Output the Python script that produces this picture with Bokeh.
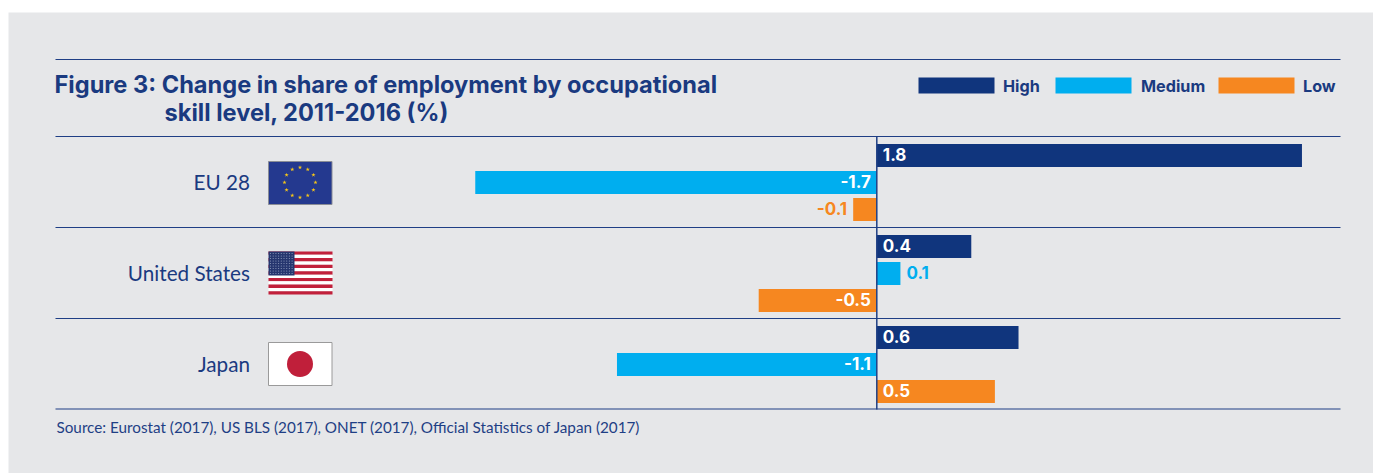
import math
from bokeh.plotting import figure
from bokeh.models import Range1d
from bokeh.embed import file_html
from bokeh.resources import INLINE
from bokeh.core.properties import value

regions = ["EU 28", "United States", "Japan"]
levels = ["High", "Medium", "Low"]
high = [1.8, 0.4, 0.6]
medium = [-1.7, 0.1, -1.1]
low = [-0.1, -0.5, 0.5]
title_lines = ["Figure 3: Change in share of employment by occupational", "skill level, 2011-2016 (%)"]
source = "Source: Eurostat (2017), US BLS (2017), ONET (2017), Official Statistics of Japan (2017)"

NAVY, CYAN, ORANGE = "#10357d", "#00aeef", "#f68720"
INK = "#1a3a80"
BG = "#e6e7e9"
RULE = "#1f3f85"
BOLD = "Inter"
LIGHT = "Lato"
colors = [NAVY, CYAN, ORANGE]
series = [high, medium, low]

W, H = 1373, 473
ZERO, PX_PER_UNIT = 876.3, 236.2
ROW0, ROW_PITCH, BAND = 182.0, 91.0, 27.0
BAR_H = 23.0

def X(px): return (px - ZERO) / PX_PER_UNIT
def Y(px): return (px - ROW0) / ROW_PITCH
def DX(px): return px / PX_PER_UNIT
def DY(px): return px / ROW_PITCH

p = figure(width=W, height=H, output_backend="svg", toolbar_location=None,
           x_range=Range1d(X(0), X(W)), y_range=Range1d(Y(H), Y(0)),
           min_border=0, outline_line_color=None, background_fill_color="white",
           border_fill_color="white")
p.axis.visible = False
p.grid.visible = False

def box(l, r, t, b, c, line=None):
    p.quad(left=[X(l)], right=[X(r)], top=[Y(t)], bottom=[Y(b)], fill_color=c, line_color=line)

def txt(px, py, s, color=INK, size=16, style="normal", align="left", font=BOLD):
    p.text(x=[X(px)], y=[Y(py)], text=[s], text_color=color, text_font=value(font),
           text_font_size=f"{size}px", text_font_style=style, text_align=align, text_baseline="middle")

# panel
box(8, W + 1, 12, H + 1, BG)

# rules
for ry in (59, 136, 227, 318, 408.5):
    p.segment(x0=[X(55)], x1=[X(1340)], y0=[Y(ry)], y1=[Y(ry)], line_color=RULE, line_width=1.2)

# title, legend
txt(54, 83.5, title_lines[0], size=23.6, style="bold")
txt(164, 112, title_lines[1], size=23.6, style="bold")
for lab, col, sx, tx in zip(levels, colors, (918, 1055, 1218), (1002.5, 1140.5, 1302.5)):
    box(sx, sx + 76, 77, 93, col)
    txt(tx, 85, lab, size=16.2, style="bold")

# bars
for s, (vals, col) in enumerate(zip(series, colors)):
    for r, v in enumerate(vals):
        yc = r + (s - 1) * BAND / ROW_PITCH
        p.hbar(y=[yc], left=[0], right=[v], height=DY(BAR_H), fill_color=col, line_color=None)
        outside = abs(v) < 0.2
        gap = 6.0
        if outside:
            xp = v + DX(gap) * (1 if v > 0 else -1)
            tc = col
        else:
            xp = DX(gap) * (1 if v > 0 else -1)
            tc = "white"
        p.text(x=[xp], y=[yc - DY(1)], text=[f"{v:.1f}"], text_color=tc, text_font=value(BOLD),
               text_font_size="17px", text_font_style="bold",
               text_align="left" if v > 0 else "right", text_baseline="middle")

# zero axis
p.segment(x0=[0], x1=[0], y0=[Y(136)], y1=[Y(409)], line_color=RULE, line_width=1.5)

# row labels
for r, name in enumerate(regions):
    p.text(x=[X(249.5)], y=[r - DY(1)], text=[name], text_color=INK, text_font=value(LIGHT),
           text_font_size="20.7px", text_align="right", text_baseline="middle")

# EU flag
box(268, 331.5, 161, 204, "#24398f", "#8a8d96")
sx = [299.5 + 15.5 * math.sin(i * math.pi / 6) for i in range(12)]
sy = [182 - 15 * math.cos(i * math.pi / 6) for i in range(12)]
p.scatter(x=[X(a) for a in sx], y=[Y(b) for b in sy], marker="star", size=4.5, fill_color="#f5c518", line_color=None)

# US flag
t, sh = 251, 43 / 13
for i in range(13):
    box(268, 332, t + i * sh, t + (i + 1) * sh, "#c1203b" if i % 2 == 0 else "white")
box(268, 294, 251, 275, "#26366f")
dx = [270 + 2.7 * i for i in range(9)]
dy = [253 + 2.5 * j for j in range(9)]
p.scatter(x=[X(a) for a in dx for b in dy], y=[Y(b) for a in dx for b in dy], marker="circle", size=1.2,
          fill_color="#8e9bbd", line_color=None)

# Japan flag
box(268, 331.5, 342, 385, "white", "#9a9a9a")
p.scatter(x=[X(299.5)], y=[Y(363.5)], marker="circle", size=26, fill_color="#c01f3a", line_color=None)

# source
txt(56, 426, source, color="#1f3f85", size=15.25, font=LIGHT)

open("out.html", "w").write(file_html(p, INLINE))
